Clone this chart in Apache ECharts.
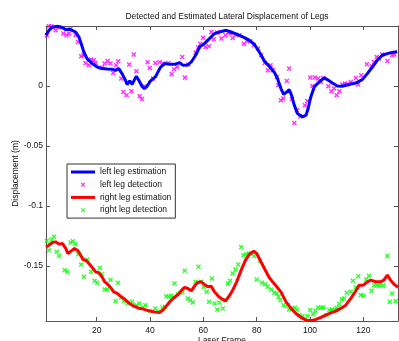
<!DOCTYPE html>
<html>
<head>
<meta charset="utf-8">
<script src="https://cdn.jsdelivr.net/npm/echarts@6/dist/echarts.min.js"></script>
<style>
  html, body { margin: 0; padding: 0; background: #fff; }
  #chart { width: 399px; height: 341px; }
</style>
</head>
<body>
<div id="chart"></div>
<script>
// data: [laser frame, displacement (m)]
var leftEst = [[1,0.0423],[2.1,0.0464],[3.4,0.049],[5.2,0.0498],[7.1,0.0487],[8.4,0.047],[10.2,0.047],[12.1,0.045],[13.3,0.041],[14.2,0.0353],[15.2,0.0283],[16.4,0.0228],[18.3,0.0187],[20.2,0.0158],[22,0.0145],[23.9,0.0142],[25.8,0.014],[27,0.013],[28.3,0.0145],[29.5,0.0103],[30.8,0.0048],[31.4,0.0012],[32.4,0.0042],[33.3,0.0014],[34.2,0.0053],[34.9,0.008],[35.8,0.0048],[37,-0.0003],[37.9,-0.0022],[38.9,-0.0003],[40.1,0.004],[42,0.0075],[43.9,0.0155],[45.5,0.0187],[47.4,0.018],[49.2,0.018],[51.1,0.0195],[52.3,0.0173],[54.2,0.0175],[55.5,0.02],[57.1,0.0256],[58.6,0.0325],[60.4,0.0353],[62.3,0.0395],[64.2,0.0437],[66,0.045],[68.6,0.0464],[70.4,0.045],[72.9,0.0428],[75.4,0.0403],[77.3,0.038],[79.1,0.0348],[81,0.0283],[82.9,0.0208],[84.7,0.0164],[86.6,0.0115],[87.8,0.0062],[89.1,-0.0022],[90.1,-0.0069],[91.3,-0.005],[92.2,-0.003],[93.1,-0.0078],[94.1,-0.016],[95.3,-0.023],[97.2,-0.0258],[98.5,-0.0244],[99.3,-0.0188],[100.3,-0.0092],[101.6,-0.0008],[103.4,0.0033],[105.3,0.0067],[106.5,0.0053],[108.4,0.0025],[110.3,0],[112.1,-0.0003],[114.6,0.0012],[117.2,0.0025],[119.6,0.0053],[121.5,0.0103],[123.4,0.0158],[125.2,0.0214],[127.1,0.0256],[129,0.027],[130.8,0.028],[132.7,0.0286]];

var leftDet = [[1.3,0.042],[2.1,0.0498],[3,0.0498],[4.6,0.0464],[5.9,0.0487],[7.5,0.0437],[8.7,0.0423],[9.6,0.0437],[10.2,0.0478],[12.1,0.0423],[13,0.0367],[14.2,0.0248],[15,0.0256],[15.8,0.0192],[17.1,0.0173],[17.9,0.022],[18.9,0.0214],[19.6,0.0192],[22,0.0153],[23,0.0187],[24.1,0.0208],[25.2,0.0187],[26.2,0.0108],[27.3,0.0173],[28.1,0.0206],[29.2,0.0062],[30,-0.005],[31.2,-0.0078],[32.2,0.0178],[33,-0.0044],[33.9,0.0262],[34.9,0.0122],[36.1,-0.0086],[37,-0.0108],[37.9,-0.0003],[39.1,0.0198],[39.9,0.015],[41.1,0.0062],[42,0.0192],[43.6,0.0198],[44.9,0.0187],[46.9,0.0192],[48.1,0.0098],[49,0.0139],[50.2,0.0158],[52.1,0.0242],[53.1,0.007],[54.3,0.0178],[57.1,0.0278],[58.1,0.032],[58.9,0.0353],[59.9,0.0403],[60.8,0.0325],[62.1,0.0331],[63,0.045],[63.9,0.039],[65.2,0.0445],[66.8,0.0395],[68.3,0.0423],[69.3,0.0445],[70.2,0.0437],[71,0.04],[72.3,0.0428],[73.5,0.0423],[75.2,0.0353],[76.4,0.0375],[77.6,0.0373],[78.9,0.0339],[80.5,0.0312],[81.7,0.0256],[83,0.0192],[84.2,0.0131],[85.2,0.0173],[86,0.0131],[87.6,0.0075],[88.1,0.0006],[89.1,-0.012],[90,-0.0105],[91.3,0.0042],[92.2,0.0145],[93.2,-0.011],[94.1,-0.0308],[95.1,-0.0203],[96.3,-0.0253],[98.1,-0.016],[99,-0.0125],[100.1,0.007],[100.9,0],[101.8,0.007],[103.1,0.0062],[104.1,0.0033],[105,0.0067],[106.9,-0.0003],[108,-0.0044],[109,-0.0022],[110,-0.0078],[111,-0.0044],[112.1,0.0012],[113.1,0.002],[114,0.0014],[115.3,0.0033],[117.2,0.0067],[118,0.0012],[119.2,0.0089],[121.3,0.0181],[123.1,0.0167],[124,0.02],[125,0.0242],[125.9,0.0228],[127.1,0.0262],[129,0.0208],[130.8,0.0256],[131.7,0.0262]];

var rightEst = [[1,-0.1342],[2.1,-0.1328],[3.4,-0.1305],[4.6,-0.13],[5.9,-0.1319],[7.1,-0.1313],[8.4,-0.1355],[9.2,-0.1397],[10.5,-0.1375],[11.7,-0.1355],[13,-0.1375],[14,-0.1411],[14.9,-0.1447],[16.2,-0.1458],[17.1,-0.148],[18.1,-0.1508],[19.6,-0.155],[20.8,-0.1558],[22,-0.1592],[23,-0.1633],[24.1,-0.1653],[25.2,-0.168],[26.4,-0.1717],[27.7,-0.173],[28.9,-0.1753],[30.2,-0.1772],[32,-0.1808],[33.9,-0.1836],[35.8,-0.1853],[37.6,-0.1861],[39.5,-0.1875],[42,-0.1886],[43.6,-0.189],[44.9,-0.1869],[46.1,-0.1836],[47.4,-0.18],[48.6,-0.1772],[49.9,-0.175],[51.1,-0.1725],[52.1,-0.1697],[53,-0.168],[54.2,-0.1689],[55.5,-0.1708],[56.7,-0.1669],[57.9,-0.1639],[59.2,-0.1633],[60.4,-0.1655],[61.7,-0.1675],[62.9,-0.1669],[64.2,-0.1717],[65.8,-0.1758],[67.3,-0.178],[68.3,-0.1792],[69.5,-0.1758],[71,-0.1703],[72.5,-0.1633],[74.2,-0.1536],[75.8,-0.1453],[77.3,-0.1403],[78.9,-0.1378],[80,-0.1397],[81.3,-0.1453],[82.9,-0.1522],[84.7,-0.1597],[86.6,-0.165],[89.1,-0.1717],[91,-0.18],[92.9,-0.1855],[94.7,-0.1897],[96.6,-0.193],[98.5,-0.1953],[100.3,-0.1958],[102.2,-0.1947],[104.1,-0.193],[105.9,-0.1911],[107.8,-0.1892],[109.7,-0.1878],[111.5,-0.1855],[113.4,-0.1828],[115.3,-0.1772],[117.2,-0.1708],[118.4,-0.1661],[120,-0.1661],[121.5,-0.1633],[122.8,-0.1619],[124.6,-0.1633],[126.5,-0.1633],[127.7,-0.1619],[129,-0.1578],[130.2,-0.1619],[131.5,-0.1653],[133,-0.168]];

var rightDet = [[1.3,-0.1292],[2.1,-0.1369],[3,-0.128],[4,-0.1258],[5,-0.1383],[5.9,-0.1417],[8,-0.1536],[9,-0.155],[10.2,-0.1305],[11.1,-0.1294],[12.1,-0.1319],[13.1,-0.1403],[14.2,-0.1489],[15.2,-0.1592],[16.4,-0.1447],[17.9,-0.155],[19.2,-0.1625],[20.2,-0.1642],[21.2,-0.1517],[22,-0.1569],[23,-0.1697],[23.9,-0.1697],[25.2,-0.1619],[27.1,-0.1794],[28,-0.1642],[29.2,-0.1767],[30.2,-0.1794],[31.7,-0.1814],[33.3,-0.18],[34.8,-0.1828],[36,-0.1814],[37.3,-0.1847],[38.3,-0.1828],[40.1,-0.1878],[42,-0.1855],[43,-0.1878],[44.7,-0.1847],[45.6,-0.1842],[46.1,-0.1753],[47.1,-0.1758],[48,-0.175],[49.2,-0.1647],[50.5,-0.1736],[51.4,-0.1725],[52.1,-0.1717],[53,-0.1542],[54.2,-0.1772],[55.1,-0.1786],[56.1,-0.1805],[57.1,-0.1633],[58.2,-0.1508],[59.2,-0.1633],[60.1,-0.1675],[61.3,-0.1717],[62.1,-0.18],[63.2,-0.1605],[64.2,-0.1814],[65.2,-0.1864],[66,-0.1805],[67.3,-0.1855],[68.2,-0.1786],[69.2,-0.1647],[70,-0.1625],[71,-0.1564],[72,-0.153],[73.1,-0.1489],[74.2,-0.1342],[75,-0.1411],[76,-0.1403],[77,-0.1397],[77.9,-0.1397],[79.1,-0.1419],[80,-0.1614],[81.3,-0.1458],[82,-0.1642],[83.2,-0.1653],[84.1,-0.1675],[85.4,-0.1697],[86.6,-0.1725],[87.5,-0.173],[88.2,-0.1758],[88.9,-0.1786],[90.1,-0.1828],[91.6,-0.1828],[92.2,-0.1864],[93.4,-0.1855],[94.3,-0.185],[95.1,-0.1869],[96,-0.1911],[97.2,-0.1919],[98.1,-0.1953],[99.1,-0.1919],[100.1,-0.1869],[101.2,-0.1903],[102,-0.1875],[103.1,-0.1847],[104.1,-0.185],[105,-0.1847],[106.2,-0.1911],[107.2,-0.1869],[108.2,-0.1864],[109.3,-0.1864],[110,-0.185],[110.9,-0.1819],[111.9,-0.1778],[112.8,-0.1772],[113.8,-0.1725],[115.3,-0.1717],[116.1,-0.1625],[117.2,-0.168],[118.1,-0.1586],[119,-0.1744],[120,-0.175],[121.1,-0.1614],[122.1,-0.1583],[123.1,-0.1708],[124,-0.1661],[125.2,-0.1661],[126.2,-0.1661],[127.5,-0.1661],[129,-0.1417],[129.9,-0.18],[130.8,-0.173],[132.1,-0.1794]];

var xTicks = [20, 40, 60, 80, 100, 120];
var yTicks = [-0.15, -0.1, -0.05, 0];
var seriesNames = ["left leg estimation", "left leg detection", "right leg estimation", "right leg detection"];

(function () {
  var myChart = echarts.init(document.querySelector("#chart"));
  var font = "Liberation Sans, Arial, sans-serif";
  var axisColor = "#555";
  var textColor = "#111";
  // x-mark used for the detections
  var crossPath = "path://M0,2L2,0L5,3L8,0L10,2L7,5L10,8L8,10L5,7L2,10L0,8L3,5Z";
  // same mark with padding so the legend icon stays small
  var crossIcon = "path://M0,0M18,18M4,6L6,4L9,7L12,4L14,6L11,9L14,12L12,14L9,11L6,14L4,12L7,9Z";
  // plain thick line for the estimation entries
  var lineIcon = "path://M0,0M24,8M0,2.5L24,2.5L24,5.5L0,5.5Z";

  function yFmt(v) {
    return v === 0 ? "0" : String(+v.toFixed(2));
  }

  function xAxisOf(pos, showLabel) {
    return {
      type: "value",
      position: pos,
      min: 1,
      max: 133,
      name: showLabel ? "Laser Frame" : "",
      nameLocation: "middle",
      nameGap: 15,
      nameMoveOverlap: false,
      nameTextStyle: { color: textColor, fontSize: 8.5, fontFamily: font },
      axisLine: { show: true, onZero: false, lineStyle: { color: axisColor, width: 1 } },
      axisTick: { show: true, inside: true, length: 4, customValues: xTicks, lineStyle: { color: axisColor } },
      axisLabel: { show: showLabel, customValues: xTicks, color: textColor, fontSize: 8.5, fontFamily: font, margin: 5 },
      splitLine: { show: false },
    };
  }

  function yAxisOf(pos, showLabel) {
    return {
      type: "value",
      position: pos,
      min: -0.196,
      max: 0.05,
      name: showLabel ? "Displacement (m)" : "",
      nameLocation: "middle",
      nameGap: 26,
      nameMoveOverlap: false,
      nameTextStyle: { color: textColor, fontSize: 8.5, fontFamily: font },
      axisLine: { show: true, onZero: false, lineStyle: { color: axisColor, width: 1 } },
      axisTick: { show: true, inside: true, length: 4, customValues: yTicks, lineStyle: { color: axisColor } },
      axisLabel: { show: showLabel, customValues: yTicks, formatter: yFmt, color: textColor, fontSize: 8.5, fontFamily: font, margin: 3 },
      splitLine: { show: false },
    };
  }

  var option = {
    backgroundColor: "#fff",
    animation: false,
    title: {
      text: "Detected and Estimated Lateral Displacement of Legs",
      left: 222,
      top: 7,
      textAlign: "center",
      textStyle: { color: textColor, fontSize: 8.5, fontWeight: "normal", fontFamily: font },
    },
    grid: { left: 46, right: 1, top: 26, bottom: 20, outerBoundsMode: "none", containLabel: false },
    legend: {
      orient: "vertical",
      left: 67,
      top: 164,
      padding: [2, 4, 2, 4],
      itemWidth: 24,
      itemHeight: 8,
      itemGap: 0.7,
      backgroundColor: "#fff",
      borderColor: "#333",
      borderWidth: 1,
      textStyle: { color: textColor, fontSize: 8.5, fontFamily: font, lineHeight: 12 },
      data: [
        { name: seriesNames[0], icon: lineIcon },
        { name: seriesNames[1], icon: crossIcon },
        { name: seriesNames[2], icon: lineIcon },
        { name: seriesNames[3], icon: crossIcon },
      ],
    },
    xAxis: [xAxisOf("bottom", true), xAxisOf("top", false)],
    yAxis: [yAxisOf("left", true), yAxisOf("right", false)],
    series: [
      {
        name: seriesNames[0],
        type: "line",
        data: leftEst,
        symbol: "none",
        color: "#0000ff",
        lineStyle: { color: "#0000ff", width: 3 },
      },
      {
        name: seriesNames[1],
        type: "scatter",
        data: leftDet,
        symbol: crossPath,
        symbolSize: 5,
        color: "#ff00ff",
        itemStyle: { color: "#ff00ff" },
      },
      {
        name: seriesNames[2],
        type: "line",
        data: rightEst,
        symbol: "none",
        color: "#ff0000",
        lineStyle: { color: "#ff0000", width: 3 },
      },
      {
        name: seriesNames[3],
        type: "scatter",
        data: rightDet,
        symbol: crossPath,
        symbolSize: 5,
        color: "#00ff00",
        itemStyle: { color: "#00ff00" },
      },
    ],
  };
  myChart.setOption(option);
})();
</script>
</body>
</html>
